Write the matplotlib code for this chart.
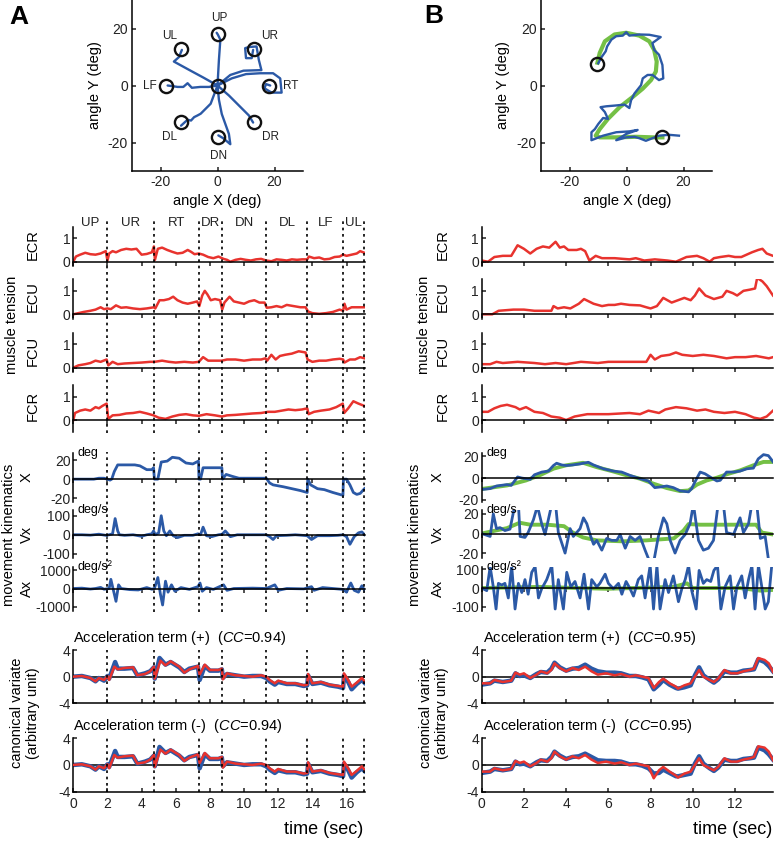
import numpy as np
import matplotlib
matplotlib.use('Agg')
import matplotlib.pyplot as plt
import matplotlib.transforms as mtransforms

# ---------------- data ----------------
# panel A: centre-out task, target order and reset times (s)
seg_labels = ['UP', 'UR', 'RT', 'DR', 'DN', 'DL', 'LF', 'UL']
seg_bounds = [0.0, 2.0, 4.75, 7.35, 8.72, 11.31, 13.71, 15.8, 17.05]

target_x = [0, 12.7, 18, 12.7, 0, -12.7, -18, -12.7, 0]
target_y = [18, 12.7, 0, -12.7, -18, -12.7, 0, 12.7, 0]
target_lab_x = [0.5, 18.3, 25.7, 18.5, 0.5, -16.8, -23.7, -16.8]
target_lab_y = [23.8, 17.5, -0.2, -18.2, -24.7, -18.2, -0.2, 17.5]

nan = np.nan
traj_a_x = [0, 0.5, 1.0, 0.1, -0.3, nan,
            0, 4.5, 9.1, 15.4, 14.5, 13.7, 11.0, 9.7, 10.0, 12.0, 12.5, nan,
            0, 5, 10, 15, 19.5, 22, 22.5, 19, 16.5, 17, 18.5, nan,
            0, 4, 8, 11, 12.5, nan,
            0, 0.5, 1.5, 4, 4.5, 2, 0.3, nan,
            0, -2.4, -5.9, -7.0, -8.2, -9.3, -10.5, -12.8, nan,
            0, -3, -6, -9, -10.5, -12, -14, -16, -17.5, nan,
            0, -5, -10, -15.3, -13.5, -12.5]
traj_a_y = [0, 9, 16.1, 17.9, 18.5, nan,
            0, 3.7, 5.2, 5.4, 9, 13.7, 13.5, 13.1, 9.6, 9.6, 12.5, nan,
            0, 2.5, 4, 4.3, 4.3, 2.5, -2.5, -2.5, -1, 0.5, 0, nan,
            0, -3.5, -7.5, -10.5, -13, nan,
            0, -5, -10, -17, -20.6, -18.5, -17.5, nan,
            0, -6.4, -9.9, -10.5, -11.1, -12.3, -12.0, -14.1, nan,
            0, -0.5, -0.5, -0.8, 0.8, -0.5, -0.5, -0.2, 0, nan,
            0, 2.8, 5.5, 8.4, 10, 12.5]

# panel B: tracing the digit "2"
circ_b_x = [-10.5, 12.6]
circ_b_y = [7.5, -18.0]
guide_b_x = [-10.2, -9.4, -7.6, -4.2, -0.1, 4.5, 8.0, 9.7, 10.6, 10.3, 8.6, 5.7, 2.2,
             -2.4, -6.5, -9.4, -10.8, -9.4, -3.6, 3.4, 9.1, 12.6]
guide_b_y = [8.0, 11.4, 15.5, 17.9, 18.5, 17.5, 15.5, 12.5, 8.4, 4.9, 1.9, -1.1, -4.0,
             -7.6, -11.7, -15.3, -17.6, -18.2, -18.2, -18.0, -18.2, -18.2]
traj_b_x = [-9.9, -8.8, -7.3, -6.8, -5.3, -3.6, -1.3, -0.1, 1.0, 4.5, 8.0, 12.0, 9.1, 9.7,
            11.4, 12.6, 12.9, 11.4, 9.1, 7.4, 5.7, 5.1, 2.8, 1.6, 1.0, -0.7, -3.6, -7.1,
            -9.1, -7.6, -6.5, -8.2, -9.9, -11.1, -12.3, -12.3, -8.2, -3.6, 1.0, 3.9, -0.1,
            -3.6, -0.1, 2.8, 4.5, 6.8, 9.1, 11.4, 14.9, 18.4]
traj_b_y = [7.8, 9.9, 12.0, 13.7, 16.1, 17.3, 17.5, 18.7, 17.5, 17.9, 17.8, 17.0, 14.9, 12.5,
            10.8, 7.2, 2.5, 1.9, 3.7, 3.7, 2.5, 0.1, -2.8, -5.2, -7.9, -6.7, -7.0, -7.3,
            -7.6, -9.3, -11.7, -11.4, -13.5, -15.3, -16.4, -19.2, -17.6, -16.4, -16.1, -15.6,
            -17.0, -19.2, -18.2, -18.0, -18.5, -19.4, -18.5, -17.6, -17.3, -17.6]

# muscle tension, panel A  (time s, tension)
ecr_a = [(0, 0), (0.15, 0.22), (0.4, 0.3), (0.7, 0.38), (1.0, 0.32), (1.3, 0.3), (1.6, 0.35),
         (1.9, 0.45), (2.0, 0.05), (2.1, 0.35), (2.3, 0.45), (2.5, 0.4), (2.8, 0.5), (3.1, 0.55),
         (3.4, 0.52), (3.7, 0.55), (4.0, 0.3), (4.3, 0.33), (4.6, 0.4), (4.72, 0.65), (4.78, 0.08),
         (4.95, 0.55), (5.2, 0.6), (5.5, 0.5), (5.8, 0.42), (6.1, 0.35), (6.4, 0.38), (6.7, 0.5),
         (6.9, 0.42), (7.1, 0.32), (7.35, 0.35), (7.6, 0.3), (7.9, 0.2), (8.2, 0.15), (8.5, 0.22),
         (8.8, 0.12), (9.0, 0.08), (9.2, 0.0), (9.5, 0.08), (9.8, 0.12), (10.1, 0.08), (10.4, 0.05),
         (10.7, 0.1), (11.0, 0.12), (11.3, 0.05), (11.6, 0.02), (11.9, 0.1), (12.2, 0.08),
         (12.5, 0.05), (12.8, 0.1), (13.1, 0.08), (13.4, 0.1), (13.7, 0.1), (13.8, 0.22),
         (14.1, 0.15), (14.4, 0.18), (14.7, 0.1), (15.0, 0.12), (15.3, 0.2), (15.6, 0.22),
         (15.8, 0.3), (16.0, 0.25), (16.3, 0.3), (16.6, 0.35), (16.8, 0.45), (17.05, 0.38)]
ecu_a = [(0, 0), (0.3, 0.05), (0.6, 0.1), (1.0, 0.15), (1.3, 0.2), (1.6, 0.3), (1.8, 0.22),
         (2.0, 0.25), (2.2, 0.22), (2.5, 0.38), (2.8, 0.28), (3.1, 0.3), (3.5, 0.25), (3.9, 0.22),
         (4.3, 0.25), (4.72, 0.3), (4.8, 0.25), (5.05, 0.6), (5.3, 0.6), (5.6, 0.65), (5.85, 0.75),
         (6.1, 0.6), (6.4, 0.5), (6.7, 0.45), (7.0, 0.5), (7.25, 0.55), (7.38, 0.35), (7.55, 0.8),
         (7.7, 1.0), (7.85, 0.85), (8.05, 0.6), (8.3, 0.65), (8.6, 0.6), (8.72, 0.2), (8.85, 0.5),
         (9.15, 0.75), (9.4, 0.55), (9.7, 0.5), (10.0, 0.45), (10.3, 0.55), (10.6, 0.6),
         (10.9, 0.5), (11.2, 0.5), (11.33, 0.28), (11.6, 0.3), (11.9, 0.35), (12.2, 0.3),
         (12.5, 0.4), (12.9, 0.35), (13.3, 0.3), (13.6, 0.3), (13.75, 0.12), (14.0, 0.05),
         (14.4, 0.02), (14.8, 0.05), (15.2, 0.1), (15.6, 0.2), (15.8, 0.15), (15.88, 0.45),
         (16.0, 0.2), (16.3, 0.3), (16.7, 0.3), (17.05, 0.3)]
fcu_a = [(0, 0), (0.3, 0.1), (0.7, 0.15), (1.0, 0.2), (1.3, 0.3), (1.6, 0.25), (1.95, 0.35),
         (2.05, 0.1), (2.3, 0.25), (2.6, 0.15), (3.0, 0.18), (3.5, 0.2), (4.0, 0.22), (4.5, 0.25),
         (4.75, 0.25), (5.2, 0.3), (5.6, 0.25), (6.0, 0.22), (6.5, 0.25), (7.0, 0.22), (7.35, 0.25),
         (7.6, 0.45), (7.9, 0.3), (8.3, 0.3), (8.7, 0.3), (9.0, 0.35), (9.5, 0.35), (10.0, 0.3),
         (10.5, 0.35), (11.0, 0.35), (11.25, 0.4), (11.35, 0.3), (11.6, 0.55), (11.85, 0.35),
         (12.1, 0.5), (12.4, 0.55), (12.8, 0.6), (13.2, 0.7), (13.6, 0.65), (13.72, 0.35),
         (14.0, 0.25), (14.4, 0.3), (14.8, 0.3), (15.2, 0.35), (15.6, 0.38), (15.8, 0.35),
         (15.88, 0.22), (16.2, 0.35), (16.5, 0.35), (16.8, 0.45), (17.05, 0.4)]
fcr_a = [(0, 0), (0.1, 0.3), (0.4, 0.4), (0.7, 0.45), (1.0, 0.4), (1.3, 0.55), (1.5, 0.5),
         (1.7, 0.6), (1.95, 0.7), (2.05, 0.05), (2.3, 0.2), (2.7, 0.22), (3.1, 0.28), (3.5, 0.3),
         (3.9, 0.35), (4.3, 0.28), (4.7, 0.2), (5.0, 0.1), (5.4, 0.05), (5.8, 0.15), (6.2, 0.22),
         (6.6, 0.25), (7.0, 0.2), (7.35, 0.18), (7.8, 0.25), (8.3, 0.2), (8.7, 0.15), (9.0, 0.2),
         (9.5, 0.22), (10.0, 0.25), (10.5, 0.28), (11.0, 0.3), (11.4, 0.35), (11.8, 0.35),
         (12.2, 0.4), (12.6, 0.45), (13.0, 0.42), (13.4, 0.45), (13.7, 0.5), (13.78, 0.25),
         (14.1, 0.35), (14.5, 0.4), (15.0, 0.45), (15.4, 0.55), (15.78, 0.7), (15.86, 0.3),
         (16.1, 0.5), (16.4, 0.8), (16.7, 0.7), (17.05, 0.6)]

# muscle tension, panel B
ecr_b = [(0, 0.05), (0.3, 0.0), (0.6, 0.2), (1.0, 0.25), (1.4, 0.25), (1.7, 0.7), (2.0, 0.55),
         (2.3, 0.35), (2.6, 0.55), (2.9, 0.65), (3.2, 0.6), (3.5, 0.85), (3.7, 0.6), (3.9, 0.65),
         (4.1, 0.5), (4.5, 0.5), (4.7, 0.55), (4.9, 0.45), (5.1, 0.05), (5.4, 0.25), (5.7, 0.15),
         (6.0, 0.15), (6.3, 0.15), (6.7, 0.12), (7.0, 0.1), (7.3, 0.15), (7.7, 0.05), (8.2, 0.1),
         (8.8, 0.05), (9.2, 0.0), (9.7, 0.2), (10.2, 0.25), (10.5, 0.15), (10.8, 0.0), (11.0, 0.15),
         (11.3, 0.2), (11.7, 0.25), (12.0, 0.2), (12.3, 0.2), (12.8, 0.4), (13.1, 0.5),
         (13.3, 0.55), (13.5, 0.35), (13.8, 0.25)]
ecu_b = [(0, 0), (0.5, 0.0), (0.8, 0.15), (1.5, 0.2), (2.0, 0.2), (2.5, 0.15), (3.3, 0.15),
         (3.4, 0.35), (3.6, 0.25), (3.9, 0.3), (4.2, 0.25), (4.6, 0.45), (4.85, 0.65), (5.3, 0.45),
         (5.7, 0.35), (6.0, 0.4), (6.3, 0.4), (6.6, 0.45), (7.0, 0.4), (7.5, 0.38), (7.8, 0.3),
         (8.0, 0.25), (8.3, 0.35), (8.6, 0.7), (9.0, 0.5), (9.3, 0.6), (9.6, 0.7), (9.9, 0.6),
         (10.1, 0.8), (10.3, 1.1), (10.6, 0.8), (11.0, 0.65), (11.4, 0.75), (11.6, 1.0),
         (11.9, 0.9), (12.1, 0.8), (12.4, 1.0), (12.7, 1.05), (12.95, 1.1), (13.05, 1.55),
         (13.3, 1.4), (13.5, 1.2), (13.8, 0.8)]
fcu_b = [(0, 0.15), (0.4, 0.15), (0.7, 0.25), (1.0, 0.2), (1.7, 0.25), (2.5, 0.2), (3.0, 0.15),
         (3.5, 0.2), (4.0, 0.15), (4.7, 0.25), (5.5, 0.2), (6.0, 0.25), (7.0, 0.25), (7.8, 0.25),
         (8.0, 0.55), (8.2, 0.35), (8.5, 0.5), (8.9, 0.55), (9.2, 0.65), (9.5, 0.55), (10.0, 0.5),
         (10.5, 0.55), (11.0, 0.5), (11.3, 0.45), (11.6, 0.4), (12.0, 0.45), (12.5, 0.45),
         (13.0, 0.5), (13.3, 0.45), (13.6, 0.4), (13.8, 0.45)]
fcr_b = [(0, 0.35), (0.3, 0.35), (0.6, 0.5), (0.9, 0.6), (1.2, 0.65), (1.6, 0.55), (1.8, 0.45),
         (2.1, 0.55), (2.5, 0.35), (2.9, 0.3), (3.3, 0.15), (3.7, 0.1), (4.0, 0.0), (4.4, 0.15),
         (5.0, 0.25), (6.0, 0.25), (7.0, 0.3), (7.5, 0.25), (7.9, 0.4), (8.4, 0.3), (8.7, 0.45),
         (9.2, 0.55), (9.7, 0.5), (10.2, 0.4), (10.6, 0.45), (11.0, 0.35), (11.5, 0.3),
         (12.0, 0.35), (12.5, 0.25), (12.9, 0.1), (13.2, 0.05), (13.5, 0.15), (13.8, 0.4)]

# kinematics, panel A
x_a = [(0, 0), (1.2, 0), (1.5, 1), (1.8, 1), (2.0, 0), (2.15, -1), (2.25, 0), (2.4, 8), (2.6, 15),
       (3.0, 15), (3.6, 15), (3.9, 14), (4.3, 10), (4.6, 10), (4.7, 12), (4.75, 0), (4.95, 0),
       (5.15, 18), (5.5, 19), (5.8, 23), (6.2, 22), (6.6, 17), (7.0, 16), (7.33, 19), (7.36, 0),
       (7.45, 0), (7.6, 12), (8.0, 12), (8.7, 12), (8.74, 0), (8.95, 5), (9.3, 3), (9.7, 1),
       (11.3, 1), (11.5, -4), (11.7, -6), (12.3, -8), (12.8, -10), (13.3, -12), (13.7, -14),
       (13.73, 0), (13.9, -6), (14.3, -10), (14.7, -11), (15.2, -14), (15.79, -17), (15.82, 0),
       (16.0, 0), (16.2, -6), (16.4, -14), (16.6, -16), (16.8, -15), (17.05, -10)]
vx_a = [(0, 0), (0.5, 0), (1.0, -2), (1.5, 3), (1.9, -3), (2.1, 0), (2.3, 5), (2.45, 85),
        (2.6, 20), (2.7, 0), (3.0, -3), (3.5, 0), (4.0, -8), (4.3, 0), (4.6, 5), (4.7, 20),
        (4.8, 0), (5.0, 10), (5.15, 100), (5.3, 20), (5.45, -5), (5.65, 20), (5.85, -5),
        (6.1, -15), (6.5, -3), (7.0, -3), (7.3, 5), (7.45, 0), (7.6, 40), (7.8, -5), (8.1, -10),
        (8.5, 0), (8.72, 3), (8.9, 20), (9.2, -10), (9.6, 0), (10.5, 0), (11.3, 0), (11.5, -10),
        (11.7, -25), (11.9, -5), (12.5, -3), (13.0, 0), (13.7, -5), (13.95, -25), (14.3, -5),
        (15.0, -5), (15.5, -3), (15.8, 0), (16.0, -10), (16.2, -50), (16.45, -10), (16.7, 10),
        (16.9, 15), (17.05, 0)]
ax_a = [(0, 0), (0.5, 20), (1.0, -30), (1.3, 0), (1.6, 60), (1.8, -40), (2.1, 0), (2.2, 500),
        (2.35, -100), (2.5, -700), (2.65, 200), (2.8, 0), (3.3, -60), (3.8, -80), (4.3, 50),
        (4.6, -40), (4.75, 0), (4.95, 600), (5.1, -300), (5.23, -900), (5.4, 400), (5.55, -200),
        (5.75, 200), (5.95, -150), (6.3, 50), (6.8, -50), (7.3, 100), (7.42, 300), (7.55, -150),
        (7.8, 50), (8.2, -50), (8.8, 200), (9.0, -100), (9.4, 0), (10.5, 20), (11.3, 0),
        (11.8, 200), (12.0, -100), (12.5, 0), (13.5, -20), (13.95, 100), (14.1, -100),
        (14.6, 50), (15.2, 0), (15.8, -50), (16.0, -200), (16.25, 300), (16.45, -100),
        (16.7, -200), (16.9, 150), (17.05, -100)]

# kinematics, panel B (blue = actual, green = template)
x_b = [(0, -10.5), (0.4, -9.7), (0.7, -7.3), (1.2, -6.0), (1.4, -6.7), (1.7, 1.0), (1.9, 0.0),
       (2.3, -1.2), (2.5, 3.0), (2.85, 5.5), (3.16, 6.4), (3.4, 11.5), (3.55, 13.6), (3.8, 12.0),
       (4.0, 11.5), (4.3, 12.0), (4.66, 13.0), (5.05, 14.5), (5.3, 12.0), (5.77, 8.5),
       (6.24, 6.4), (6.63, 5.5), (7.03, 2.4), (7.5, -0.6), (7.9, -2.7), (8.2, -8.8), (8.45, -8.2),
       (8.77, -7.3), (9.08, -8.8), (9.4, -11.8), (9.8, -12.7), (9.95, -9.7), (10.1, -3.6),
       (10.35, 5.5), (10.58, 3.9), (10.9, 0.0), (11.14, -2.7), (11.3, -2.1), (11.6, 5.5),
       (11.93, 5.5), (12.24, 6.4), (12.56, 8.5), (12.87, 9.1), (13.1, 17.6), (13.35, 21.5),
       (13.58, 20.6), (13.8, 15.0)]
x_b_tmpl = [(0, -10.0), (1.2, -6.8), (2.1, -2.2), (2.8, 3.0), (3.4, 8.6), (4.0, 11.7),
            (4.8, 14.0), (5.45, 10.0), (6.24, 6.0), (6.87, 2.5), (7.5, -0.6), (8.14, -5.2),
            (8.77, -9.2), (9.4, -12.0), (9.8, -11.4), (10.2, -6.0), (10.66, -2.2), (11.14, 0.3),
            (11.6, 3.4), (12.24, 7.0), (12.87, 11.7), (13.35, 14.8), (13.8, 14.8)]
vx_b = [(0, 0), (0.4, -3), (0.55, 20), (0.7, 5), (0.87, 6), (1.1, 3), (1.34, 4.5), (1.58, 30),
        (1.74, 30), (1.82, -3), (2.05, -4), (2.2, 1), (2.45, 14), (2.64, 28), (2.84, 10),
        (3.0, -1), (3.3, 28), (3.5, 30), (3.63, 1), (3.95, -20), (4.19, 5), (4.34, -3), (4.66, 5),
        (4.82, 16), (4.98, 10), (5.13, -1), (5.3, -11), (5.45, -7), (5.69, -17), (5.92, -5),
        (6.16, -7), (6.4, -7), (6.56, -1), (6.8, -15), (7.03, -3), (7.27, -7), (7.5, -3),
        (7.74, -17), (7.98, -30), (8.14, -30), (8.37, -3), (8.61, 16), (8.77, 10), (8.93, -7),
        (9.16, -20), (9.4, -7), (9.64, -1), (9.87, 10), (10.03, 30), (10.27, -7), (10.5, -17),
        (10.74, -15), (10.98, -7), (11.2, 30), (11.45, 30), (11.6, 1), (11.93, -1), (12.24, 16),
        (12.4, 1), (12.64, 10), (12.8, 30), (13.03, 30), (13.2, -5), (13.43, -3), (13.58, -26),
        (13.74, -32)]
vx_b_tmpl = [(0, 0), (1.2, 5.5), (1.8, 11), (2.3, 9), (3.1, 9), (3.9, 7.5), (4.3, 1.2),
             (4.8, -4), (5.45, -7), (6.7, -8), (7.8, -7), (9.1, -5), (9.56, 3), (9.8, 9.6),
             (10.35, 9), (11.45, 9), (12.56, 9), (13.0, 9), (13.27, 1), (13.8, -1)]
ax_b = [(0, 0), (0.24, -14), (0.4, 114), (0.55, 6), (0.68, -112), (0.79, 25), (0.95, 16),
        (1.1, 25), (1.26, -53), (1.42, 120), (1.58, -112), (1.74, 25), (1.9, -24), (2.05, 45),
        (2.2, -33), (2.37, 84), (2.53, 114), (2.69, -53), (2.84, -4), (3.08, 45), (3.32, 120),
        (3.48, -112), (3.63, 45), (3.87, -112), (4.03, 84), (4.22, 6), (4.42, 35), (4.66, -53),
        (4.85, 74), (5.06, -112), (5.21, 45), (5.45, 6), (5.6, 25), (5.85, 74), (6.0, 25),
        (6.24, -4), (6.48, 25), (6.64, -33), (6.84, 35), (7.03, -4), (7.19, -43), (7.42, 45),
        (7.58, 65), (7.74, -53), (7.98, 120), (8.14, -112), (8.3, 120), (8.45, -112), (8.69, 45),
        (8.85, -24), (9.08, 65), (9.32, -73), (9.48, -4), (9.64, 45), (9.8, 120), (9.95, -14),
        (10.16, -112), (10.3, 94), (10.5, 25), (10.66, 45), (10.85, 35), (11.0, 94),
        (11.17, 120), (11.33, -112), (11.53, 6), (11.77, 65), (11.93, -112), (12.09, 6),
        (12.32, 65), (12.48, -53), (12.64, 45), (12.8, 120), (12.95, -112), (13.11, 120),
        (13.27, 6), (13.43, -112), (13.58, -73), (13.74, 120)]
ax_b_tmpl = [(0, 0), (2.76, 6), (5.92, -4), (9.08, 6), (9.72, 25), (10.0, 0), (12.24, 0),
             (13.2, -14), (13.8, -10)]

# canonical variates, panel A (blue = kinematics side, red = muscle side)
cv_pos_a_blue = [(0, 0), (0.5, 0.1), (1.0, -0.2), (1.3, -0.7), (1.5, -0.2), (1.8, -0.6),
                 (2.0, 0.1), (2.1, -0.3), (2.45, 2.2), (2.6, 1.2), (3.0, 1.2), (3.5, 1.3),
                 (3.75, 0.2), (4.2, 0.5), (4.5, 0.8), (4.72, 1.4), (4.77, -0.3), (5.05, 2.8),
                 (5.4, 1.8), (5.7, 2.2), (6.2, 1.4), (6.5, 0.7), (6.8, 1.2), (7.3, 1.5),
                 (7.4, -0.5), (7.7, 1.6), (8.0, 0.9), (8.5, 0.9), (8.7, 1.1), (8.76, -0.2),
                 (9.0, 0.4), (9.5, 0.2), (10.0, 0.0), (10.5, 0.1), (11.0, 0.1), (11.3, -0.2),
                 (11.5, -0.7), (11.8, -1.2), (12.0, -0.8), (12.5, -1.1), (13.0, -1.1), (13.5, -1.4),
                 (13.7, -1.3), (13.75, 0.2), (14.0, -1.1), (14.5, -0.9), (15.0, -1.3), (15.5, -1.5),
                 (15.8, -1.7), (15.85, 0.2), (16.1, -0.8), (16.3, -1.9), (16.6, -1.1), (16.9, -0.5),
                 (17.05, -0.9)]
cv_pos_a_red = [(0, 0), (0.5, 0.1), (1.0, -0.2), (1.3, -0.7), (1.5, -0.2), (1.8, -0.5),
                (2.0, 0.1), (2.1, -0.5), (2.4, 1.5), (2.6, 1.1), (3.0, 1.3), (3.5, 1.4),
                (3.75, 0.2), (4.2, 0.4), (4.5, 0.8), (4.72, 1.5), (4.77, -0.3), (5.1, 2.4),
                (5.4, 1.7), (5.7, 2.3), (6.2, 1.5), (6.5, 0.6), (6.8, 1.1), (7.3, 1.6), (7.4, 0.3),
                (7.7, 1.8), (8.0, 1.0), (8.5, 1.0), (8.7, 1.2), (8.76, -0.4), (9.0, 0.5), (9.5, 0.2),
                (10.0, 0.1), (10.5, 0.0), (11.0, 0.2), (11.3, 0.0), (11.5, -0.5), (11.8, -1.0),
                (12.0, -0.6), (12.5, -1.0), (13.0, -1.0), (13.5, -1.3), (13.7, -1.2), (13.75, 0.4),
                (14.0, -1.0), (14.5, -0.8), (15.0, -1.2), (15.5, -1.4), (15.8, -1.5), (15.85, 0.5),
                (16.1, -0.5), (16.3, -1.5), (16.6, -0.9), (16.9, -0.2), (17.05, -0.7)]
cv_neg_a_blue = [(0, 0), (0.5, 0.1), (1.0, -0.2), (1.3, -0.7), (1.5, -0.2), (1.8, -0.6),
                 (2.0, 0.1), (2.1, -0.3), (2.45, 2.1), (2.6, 1.2), (3.0, 1.2), (3.5, 1.3),
                 (3.75, 0.2), (4.2, 0.5), (4.5, 0.8), (4.72, 1.4), (4.77, -0.2), (5.05, 2.7),
                 (5.4, 1.8), (5.7, 2.2), (6.2, 1.4), (6.5, 0.7), (6.8, 1.2), (7.3, 1.5),
                 (7.4, -0.5), (7.7, 1.6), (8.0, 0.9), (8.5, 0.9), (8.7, 1.1), (8.76, -0.2),
                 (9.0, 0.4), (9.5, 0.2), (10.0, 0.0), (10.5, 0.1), (11.0, 0.1), (11.3, -0.2),
                 (11.5, -0.7), (11.8, -1.2), (12.0, -0.8), (12.5, -1.1), (13.0, -1.1), (13.5, -1.4),
                 (13.7, -1.3), (13.75, 0.2), (14.0, -1.1), (14.5, -0.9), (15.0, -1.3), (15.5, -1.5),
                 (15.8, -1.7), (15.85, 0.2), (16.1, -0.8), (16.3, -1.9), (16.6, -1.1), (16.9, -0.5),
                 (17.05, -0.9)]
cv_neg_a_red = [(0, 0), (0.5, 0.1), (1.0, -0.2), (1.3, -0.7), (1.5, -0.2), (1.8, -0.5),
                (2.0, 0.1), (2.1, -0.5), (2.4, 1.5), (2.6, 1.1), (3.0, 1.3), (3.5, 1.4),
                (3.75, 0.2), (4.2, 0.4), (4.5, 0.8), (4.72, 1.5), (4.77, -0.3), (5.1, 2.3),
                (5.4, 1.7), (5.7, 2.3), (6.2, 1.5), (6.5, 0.6), (6.8, 1.1), (7.3, 1.6), (7.4, 0.3),
                (7.7, 1.8), (8.0, 1.0), (8.5, 1.0), (8.7, 1.2), (8.76, -0.4), (9.0, 0.5), (9.5, 0.2),
                (10.0, 0.1), (10.5, 0.0), (11.0, 0.2), (11.3, 0.0), (11.5, -0.5), (11.8, -1.0),
                (12.0, -0.6), (12.5, -1.0), (13.0, -1.0), (13.5, -1.3), (13.7, -1.2), (13.75, 0.4),
                (14.0, -1.0), (14.5, -0.8), (15.0, -1.2), (15.5, -1.4), (15.8, -1.5), (15.85, 0.5),
                (16.1, -0.5), (16.3, -1.5), (16.6, -0.9), (16.9, -0.2), (17.05, -0.7)]

# canonical variates, panel B
cv_pos_b_blue = [(0, -1.2), (0.4, -1.0), (0.6, -0.6), (1.0, -0.8), (1.4, -0.6), (1.6, 0.5),
                 (1.8, 0.1), (2.0, 0.2), (2.3, -0.2), (2.6, 0.4), (2.8, 0.7), (3.1, 0.6),
                 (3.3, 1.2), (3.45, 2.1), (3.7, 1.4), (4.0, 0.9), (4.3, 1.2), (4.6, 1.3),
                 (4.9, 1.8), (5.2, 1.2), (5.5, 0.8), (5.9, 0.6), (6.3, 0.6), (6.6, 0.5), (7.0, 0.1),
                 (7.3, 0.1), (7.6, -0.1), (7.9, -0.4), (8.15, -1.9), (8.4, -1.2), (8.6, -0.5),
                 (8.9, -1.2), (9.2, -1.7), (9.3, -1.8), (9.6, -1.6), (9.9, -1.3), (10.1, 0.2),
                 (10.3, 1.4), (10.5, 0.2), (10.8, -0.5), (11.0, -0.9), (11.2, -0.4), (11.5, 0.8),
                 (11.8, 0.6), (12.1, 0.6), (12.4, 0.9), (12.7, 1.0), (12.9, 1.1), (13.1, 2.6),
                 (13.4, 2.2), (13.6, 1.6), (13.8, 0.8)]
cv_pos_b_red = [(0, -1.0), (0.4, -1.0), (0.6, -0.5), (1.0, -0.8), (1.4, -0.6), (1.6, 0.6),
                (1.8, 0.3), (2.0, 0.5), (2.3, -0.2), (2.6, 0.3), (2.8, 0.8), (3.1, 0.5), (3.3, 1.0),
                (3.45, 2.0), (3.7, 1.3), (4.0, 0.8), (4.3, 1.3), (4.6, 1.0), (4.9, 1.5), (5.2, 0.8),
                (5.5, 0.3), (5.9, 0.5), (6.3, 0.2), (6.6, 0.4), (7.0, 0.0), (7.3, 0.2), (7.6, 0.0),
                (7.9, -0.2), (8.15, -1.7), (8.4, -0.8), (8.6, -0.3), (8.9, -1.0), (9.2, -1.5),
                (9.3, -1.8), (9.6, -1.3), (9.9, -1.0), (10.1, 0.0), (10.3, 1.0), (10.5, 0.0),
                (10.8, -0.5), (11.0, -0.8), (11.2, -0.3), (11.5, 1.0), (11.8, 0.5), (12.1, 0.5),
                (12.4, 0.8), (12.7, 1.0), (12.9, 1.2), (13.1, 2.8), (13.4, 2.5), (13.6, 2.0),
                (13.8, 0.7)]
cv_neg_b_blue = [(0, -1.2), (0.4, -1.0), (0.6, -0.6), (1.0, -0.8), (1.4, -0.6), (1.6, 0.5),
                 (1.8, 0.1), (2.0, 0.2), (2.3, -0.2), (2.6, 0.4), (2.8, 0.7), (3.1, 0.6),
                 (3.3, 1.2), (3.45, 2.0), (3.7, 1.4), (4.0, 0.9), (4.3, 1.2), (4.6, 1.3),
                 (4.9, 1.7), (5.2, 1.2), (5.5, 0.7), (5.9, 0.6), (6.3, 0.6), (6.6, 0.5), (7.0, 0.1),
                 (7.3, 0.1), (7.6, -0.1), (7.9, -0.5), (8.15, -1.3), (8.4, -1.2), (8.6, -0.7),
                 (8.9, -1.2), (9.2, -1.7), (9.3, -1.7), (9.6, -1.5), (9.9, -1.3), (10.1, 0.2),
                 (10.3, 1.3), (10.5, 0.2), (10.8, -0.5), (11.0, -0.9), (11.2, -0.4), (11.5, 0.8),
                 (11.8, 0.6), (12.1, 0.6), (12.4, 0.9), (12.7, 1.0), (12.9, 1.1), (13.1, 2.6),
                 (13.4, 2.2), (13.6, 1.6), (13.8, 0.8)]
cv_neg_b_red = [(0, -1.0), (0.4, -1.0), (0.6, -0.5), (1.0, -0.8), (1.4, -0.6), (1.6, 0.6),
                (1.8, 0.3), (2.0, 0.5), (2.3, -0.2), (2.6, 0.3), (2.8, 0.8), (3.1, 0.5), (3.3, 1.0),
                (3.45, 2.0), (3.7, 1.3), (4.0, 0.8), (4.3, 1.3), (4.6, 1.0), (4.9, 1.5), (5.2, 0.8),
                (5.5, 0.3), (5.9, 0.5), (6.3, 0.2), (6.6, 0.4), (7.0, 0.0), (7.3, 0.2), (7.6, 0.0),
                (7.9, -0.2), (8.15, -2.0), (8.4, -0.8), (8.6, -0.3), (8.9, -1.0), (9.2, -1.6),
                (9.3, -1.9), (9.6, -1.3), (9.9, -1.0), (10.1, 0.0), (10.3, 1.0), (10.5, 0.0),
                (10.8, -0.5), (11.0, -0.8), (11.2, -0.3), (11.5, 1.0), (11.8, 0.5), (12.1, 0.5),
                (12.4, 0.8), (12.7, 1.0), (12.9, 1.2), (13.1, 2.8), (13.4, 2.6), (13.6, 2.0),
                (13.8, 0.7)]

muscle_names = ['ECR', 'ECU', 'FCU', 'FCR']
kin_names = ['X', 'Vx', 'Ax']
kin_units = ['deg', 'deg/s', 'deg/s\u00b2']
cc_a = 0.94
cc_b = 0.95

# ---------------- style ----------------
plt.rcParams['font.family'] = 'Liberation Sans'
plt.rcParams['mathtext.fontset'] = 'custom'
plt.rcParams['mathtext.rm'] = 'Liberation Sans'
plt.rcParams['mathtext.it'] = 'Liberation Sans:italic'
plt.rcParams['axes.unicode_minus'] = False
plt.rcParams['axes.linewidth'] = 1.1
plt.rcParams['xtick.major.width'] = 1.1
plt.rcParams['ytick.major.width'] = 1.1
plt.rcParams['xtick.major.size'] = 3
plt.rcParams['ytick.major.size'] = 3
plt.rcParams['xtick.labelsize'] = 10
plt.rcParams['ytick.labelsize'] = 10
plt.rcParams['xtick.color'] = '#222222'
plt.rcParams['ytick.color'] = '#222222'

BLUE = '#2b59a6'
RED = '#e8332e'
GREEN = '#74c045'
W, H = 776, 842

fig = plt.figure(figsize=(W / 100, H / 100), dpi=100)


def box(x0, y0, x1, y1):
    return [x0 / W, 1 - y1 / H, (x1 - x0) / W, (y1 - y0) / H]


def ftext(x, y, s, **kw):
    kw.setdefault('ha', 'center')
    kw.setdefault('va', 'center')
    return fig.text(x / W, 1 - y / H, s, **kw)


def xy(pairs):
    a = np.array(pairs, dtype=float)
    return a[:, 0], a[:, 1]


def time_axes(col, y0, y1, ylim, yticks, zero_spine=True, labels=False):
    x0, x1, xlim, xticks = col
    ax = fig.add_axes(box(x0, y0, x1, y1))
    ax.set_xlim(xlim)
    ax.set_ylim(ylim)
    ax.set_xticks(xticks)
    ax.set_yticks(yticks)
    ax.spines[['top', 'right']].set_visible(False)
    if zero_spine:
        ax.spines['bottom'].set_position(('data', 0))
        ax.tick_params(axis='x', direction='out', labelbottom=False)
    else:
        ax.tick_params(axis='x', direction='in', labelbottom=labels, pad=4)
    ax.tick_params(axis='y', direction='in', pad=2)
    ax.patch.set_visible(False)
    return ax


def traj_axes(x0):
    ax = fig.add_axes(box(x0, 0, x0 + 171, 171))
    ax.set_xlim(-30, 30)
    ax.set_ylim(-30, 30)
    ax.set_xticks([-20, 0, 20])
    ax.set_yticks([-20, 0, 20])
    ax.spines[['top', 'right']].set_visible(False)
    ax.tick_params(direction='in', pad=3)
    ax.patch.set_visible(False)
    return ax


col_a = (73.3, 365.3, (0, 17.1), np.arange(0, 17, 2))
col_b = (481.7, 773.0, (0, 13.8), np.arange(0, 14, 2))
muscle_rows = [(226.5, 266.4, (-0.2, 1.5)), (279.1, 319.0, (-0.2, 1.5)),
               (332.5, 372.4, (-0.2, 1.5)), (384.8, 431.8, (-0.5, 1.5))]
kin_rows = [(453, 502), (510, 558), (566.5, 610.5)]
kin_ylim_a = [(-24, 27.5), (-122, 130), (-1200, 1200)]
kin_ylim_b = [(-22, 23), (-25, 24), (-120, 115)]
kin_ticks_a = [[-20, 0, 20], [-100, 0, 100], [-1000, 0, 1000]]
kin_ticks_b = [[-20, 0, 20], [-20, 0, 20], [-100, 0, 100]]
cv_rows = [(650, 703.3), (738.3, 791.6)]
DOT = (0, (1.6, 2.2))

# ---------------- trajectories ----------------
ta = traj_axes(132)
ta.plot(traj_a_x, traj_a_y, color=BLUE, lw=1.7, solid_capstyle='round')
ta.plot(target_x, target_y, 'o', ms=9.5, mfc='none', mec='#111111', mew=1.7)
for lab, lx, ly in zip(seg_labels, target_lab_x, target_lab_y):
    ta.text(lx, ly, lab, fontsize=8.5, ha='center', va='center', color='#222222')
ftext(217, 201, 'angle X (deg)', fontsize=10.5)
ftext(95, 85, 'angle Y (deg)', fontsize=10.5, rotation=90)

tb = traj_axes(541)
tb.plot(guide_b_x, guide_b_y, color=GREEN, lw=3)
tb.plot(traj_b_x, traj_b_y, color=BLUE, lw=1.7)
tb.plot(circ_b_x, circ_b_y, 'o', ms=9.5, mfc='none', mec='#111111', mew=1.7)
ftext(627, 201, 'angle X (deg)', fontsize=10.5)
ftext(503, 85, 'angle Y (deg)', fontsize=10.5, rotation=90)

ftext(19, 17, 'A', fontsize=19, fontweight='bold')
ftext(434, 16, 'B', fontsize=19, fontweight='bold')

# ---------------- muscle tension ----------------
muscles_a = [ecr_a, ecu_a, fcu_a, fcr_a]
muscles_b = [ecr_b, ecu_b, fcu_b, fcr_b]
for col, series, lab_x, grp_x in [(col_a, muscles_a, 33, 12), (col_b, muscles_b, 443, 424)]:
    for name, data, (y0, y1, ylim) in zip(muscle_names, series, muscle_rows):
        ax = time_axes(col, y0, y1, ylim, [0, 1])
        t, v = xy(data)
        ax.plot(t, v, color=RED, lw=1.8)
        ftext(lab_x, (y0 + y1) / 2 - 2, name, fontsize=10.5, rotation=90)
    ftext(grp_x, 325, 'muscle tension', fontsize=10.5, rotation=90)

# ---------------- kinematics ----------------
kin_a = [x_a, vx_a, ax_a]
kin_b = [x_b, vx_b, ax_b]
kin_b_tmpl = [x_b_tmpl, vx_b_tmpl, ax_b_tmpl]
for i, (y0, y1) in enumerate(kin_rows):
    ax = time_axes(col_a, y0, y1, kin_ylim_a[i], kin_ticks_a[i])
    t, v = xy(kin_a[i])
    ax.plot(t, v, color=BLUE, lw=2)
    ax.text(0.016, 1.0, kin_units[i], transform=ax.transAxes, fontsize=9,
            ha='left', va='center')
    ftext(27, (y0 + y1) / 2, kin_names[i], fontsize=10.5, rotation=90)

    ax = time_axes(col_b, y0, y1, kin_ylim_b[i], kin_ticks_b[i])
    t, v = xy(kin_b_tmpl[i])
    ax.plot(t, v, color=GREEN, lw=2.8)
    t, v = xy(kin_b[i])
    ax.plot(t, v, color=BLUE, lw=2)
    ax.text(0.016, 1.0, kin_units[i], transform=ax.transAxes, fontsize=9,
            ha='left', va='center')
    ftext(438, (y0 + y1) / 2, kin_names[i], fontsize=10.5, rotation=90)
ftext(9, 535, 'movement kinematics', fontsize=10.5, rotation=90)
ftext(415, 535, 'movement kinematics', fontsize=10.5, rotation=90)

# ---------------- canonical variates ----------------
cv_a = [(cv_pos_a_blue, cv_pos_a_red, '+'), (cv_neg_a_blue, cv_neg_a_red, '-')]
cv_b = [(cv_pos_b_blue, cv_pos_b_red, '+'), (cv_neg_b_blue, cv_neg_b_red, '-')]
for col, rows, cc, title_x in [(col_a, cv_a, cc_a, 73.3), (col_b, cv_b, cc_b, 482.7)]:
    for k, ((blue, red, sign), (y0, y1)) in enumerate(zip(rows, cv_rows)):
        ax = time_axes(col, y0, y1, (-4, 4), [-4, 0, 4], zero_spine=False, labels=(k == 1))
        ax.axhline(0, color='k', lw=1.1, zorder=1)
        t, v = xy(blue)
        ax.plot(t, v, color=BLUE, lw=3.2, zorder=2)
        t, v = xy(red)
        ax.plot(t, v, color=RED, lw=1.8, zorder=3)
        if col is col_a:
            for b in seg_bounds[1:]:
                ax.axvline(b, color='k', lw=1.2, ls=DOT, zorder=4)
        ftext(title_x, y0 - 12, 'Acceleration term (%s)  ($\\it{CC}$=%.2f)' % (sign, cc),
              fontsize=10.5, ha='left')
ftext(25, 713, 'canonical variate\n(arbitrary unit)', fontsize=10.5, rotation=90,
      linespacing=1.1)
ftext(434, 713, 'canonical variate\n(arbitrary unit)', fontsize=10.5, rotation=90,
      linespacing=1.1)
ftext(363, 830, 'time (sec)', fontsize=13, ha='right')
ftext(772, 830, 'time (sec)', fontsize=13, ha='right')

# ---------------- dotted target boundaries (panel A) ----------------
for y0, y1, lab in [(219, 433, True), (452, 612, False)]:
    ov = fig.add_axes(box(col_a[0], y0, col_a[1], y1))
    ov.set_xlim(col_a[2])
    ov.set_ylim(0, 1)
    ov.axis('off')
    for b in seg_bounds[1:]:
        ov.axvline(b, color='k', lw=1.2, ls=DOT)
    if lab:
        mids = [(a + b) / 2 for a, b in zip(seg_bounds[:-1], seg_bounds[1:])]
        trans = mtransforms.blended_transform_factory(ov.transData, ov.transAxes)
        for m, s in zip(mids, seg_labels):
            ov.text(m, (y1 - 223) / (y1 - y0), s, transform=trans, fontsize=9.5,
                    ha='center', va='center', color='#222222')

fig.savefig('out.png', dpi=100)
